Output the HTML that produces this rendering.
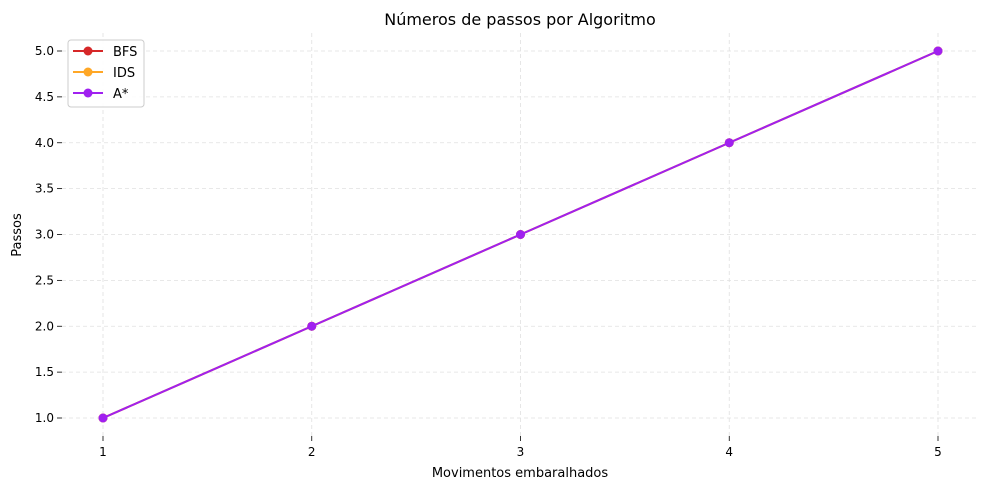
<!DOCTYPE html>
<html><head><meta charset="utf-8"><style>
body{margin:0;background:#fff;}
svg{display:block;font-family:"DejaVu Sans","Liberation Sans",sans-serif;}
</style></head><body>
<svg id="chart" width="989" height="490"></svg>
<script>
const categories=[1,2,3,4,5];
const bfsValues=[1,2,3,4,5];
const idsValues=[1,2,3,4,5];
const astarValues=[1,2,3,4,5];
const yTicks=[1.0,1.5,2.0,2.5,3.0,3.5,4.0,4.5,5.0];
const seriesNames=["BFS","IDS","A*"];
const seriesColors=["#d62728","#ffa726","#a020f0"];

const svg=document.getElementById('chart');
const NS='http://www.w3.org/2000/svg';
const L=62,R=979,T=33,B=436;
const xs=v=>103+(v-1)*(938-103)/4;
const ys=v=>418-(v-1)*(418-51)/4;
function el(tag,attrs,parent){const e=document.createElementNS(NS,tag);for(const k in attrs)e.setAttribute(k,attrs[k]);(parent||svg).appendChild(e);return e;}

const grid=el('g',{});


categories.forEach(c=>{
  el('line',{x1:xs(c),x2:xs(c),y1:T,y2:B,stroke:'#e0e0e0','stroke-dasharray':'4,3','stroke-width':0.8},grid);
  el('line',{x1:xs(c),x2:xs(c),y1:B,y2:B+5,stroke:'#000','stroke-width':0.8},grid);
  const t=el('text',{x:xs(c),y:B+20,'text-anchor':'middle','font-size':12,fill:'#000'});
  t.textContent=c;
  
  
});
yTicks.forEach(v=>{
  el('line',{x1:L,x2:R,y1:ys(v),y2:ys(v),stroke:'#e0e0e0','stroke-dasharray':'4,3','stroke-width':0.8},grid);
  el('line',{x1:L-5,x2:L,y1:ys(v),y2:ys(v),stroke:'#000','stroke-width':0.8},grid);
  const t=el('text',{x:L-8,y:ys(v)+4,'text-anchor':'end','font-size':12,fill:'#000'});
  t.textContent=v.toFixed(1);
  
  
});

[bfsValues,idsValues,astarValues].forEach((vals,i)=>{
  const g=el('g',{});
  
  
  el('polyline',{points:vals.map((v,j)=>xs(categories[j])+','+ys(v)).join(' '),fill:'none',stroke:seriesColors[i],'stroke-width':2},g);
  vals.forEach((v,j)=>{
    const c=el('circle',{cx:xs(categories[j]),cy:ys(v),r:4.5,fill:seriesColors[i]},g);
    
    
  });
});

const title=el('text',{x:520,y:25,'text-anchor':'middle','font-size':16,fill:'#000'});
title.textContent='Números de passos por Algoritmo';


const xt=el('text',{x:520,y:477,'text-anchor':'middle','font-size':13,fill:'#000'});
xt.textContent='Movimentos embaralhados';


const yt=el('text',{x:21,y:235,'text-anchor':'middle','font-size':13,fill:'#000',transform:'rotate(-90 21 235)'});
yt.textContent='Passos';



const leg=el('g',{});


el('rect',{x:68,y:40,width:76,height:67,rx:3,fill:'#fff','fill-opacity':0.85,stroke:'#ccc','stroke-width':1},leg);
seriesNames.forEach((n,i)=>{
  const y=51+i*21;
  const e=el('g',{},leg);
  
  
  el('line',{x1:73,x2:103,y1:y,y2:y,stroke:seriesColors[i],'stroke-width':2},e);
  el('circle',{cx:88,cy:y,r:4.5,fill:seriesColors[i]},e);
  const t=el('text',{x:113,y:y+5,'font-size':13,fill:'#000'},e);
  t.textContent=n;
});
</script>
</body></html>
